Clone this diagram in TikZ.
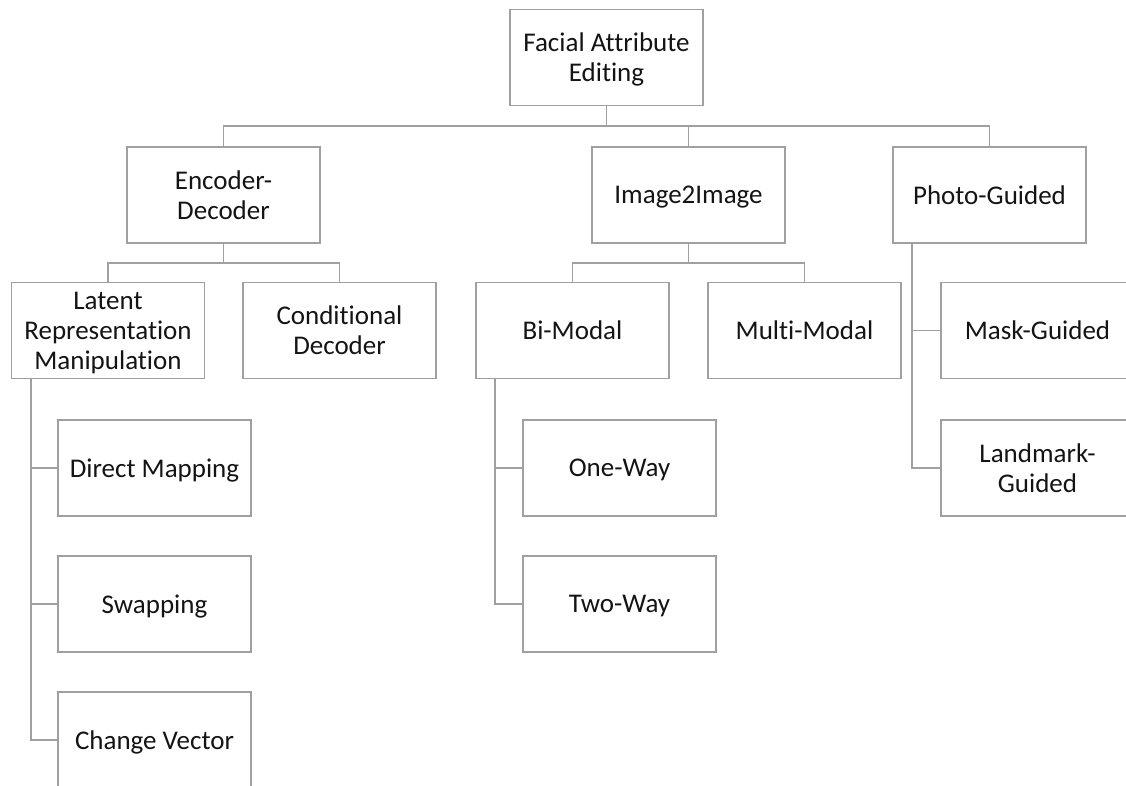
\documentclass[tikz,border=0pt]{standalone}
\usepackage{fontspec}
\setmainfont{Carlito}[Ligatures=NoCommon]
\definecolor{linegray}{RGB}{160,160,160}
\definecolor{inkblack}{RGB}{20,20,20}
\begin{document}
\begin{tikzpicture}[x=1pt,y=-1pt,
  box/.style={draw=linegray, line width=1.9pt, fill=white, rectangle,
    minimum width=193pt, minimum height=96pt, inner sep=2pt, text depth=0pt,
    align=center, text=inkblack, font=\fontsize{27}{30}\selectfont},
  link/.style={draw=linegray, line width=1.9pt}]
\useasboundingbox (0,0) rectangle (1126,785);
\fill[white] (0,0) rectangle (1126,785);
\clip (0,0) rectangle (1126,785);

% root
\node[box] (top) at (606.5,57.5) {Facial Attribute\\Editing};

% first level
\node[box] (enc)   at (223.5,195) {Encoder-\\Decoder};
\node[box] (img)   at (688.5,195) {Image2Image};
\node[box] (photo) at (989.5,195) {Photo-Guided};

% second level
\node[box] (latent) at (108,330.5)   {Latent\\Representation\\Manipulation};
\node[box] (cond)   at (339.5,330.5) {Conditional\\Decoder};
\node[box] (bimod)  at (572.5,330.5) {Bi-Modal};
\node[box] (multi)  at (804.5,330.5) {Multi-Modal};
\node[box] (mask)   at (1037.5,330.5) {Mask-Guided};

% leaves hanging from side stems
\node[box] (direct)   at (154.5,468) {Direct Mapping};
\node[box] (swap)     at (154.5,604) {Swapping};
\node[box] (change)   at (154.5,740) {Change Vector};
\node[box] (oneway)   at (619.5,468) {One-Way};
\node[box] (twoway)   at (619.5,604) {Two-Way};
\node[box] (landmark) at (1037.5,468) {Landmark-\\Guided};

% root to first level
\coordinate (bus0) at (0,126);
\draw[link] (top.south) -- (top.south |- bus0);
\draw[link] (enc.north) |- (bus0 -| photo.north) -- (photo.north);
\draw[link] (img.north) -- (img.north |- bus0);

% first level to second level
\coordinate (bus1) at (0,263);
\draw[link] (enc.south) -- (enc.south |- bus1);
\draw[link] (latent.north) |- (bus1 -| cond.north) -- (cond.north);
\draw[link] (img.south) -- (img.south |- bus1);
\draw[link] (bimod.north) |- (bus1 -| multi.north) -- (multi.north);

% side stems
\coordinate (latentstem) at ([xshift=-77pt]latent.south);
\draw[link] (latentstem) |- (direct.west);
\draw[link] (latentstem) |- (swap.west);
\draw[link] (latentstem) |- (change.west);

\coordinate (bistem) at ([xshift=-77.5pt]bimod.south);
\draw[link] (bistem) |- (oneway.west);
\draw[link] (bistem) |- (twoway.west);

\coordinate (photostem) at ([xshift=-77.5pt]photo.south);
\draw[link] (photostem) |- (mask.west);
\draw[link] (photostem) |- (landmark.west);
\end{tikzpicture}
\end{document}
